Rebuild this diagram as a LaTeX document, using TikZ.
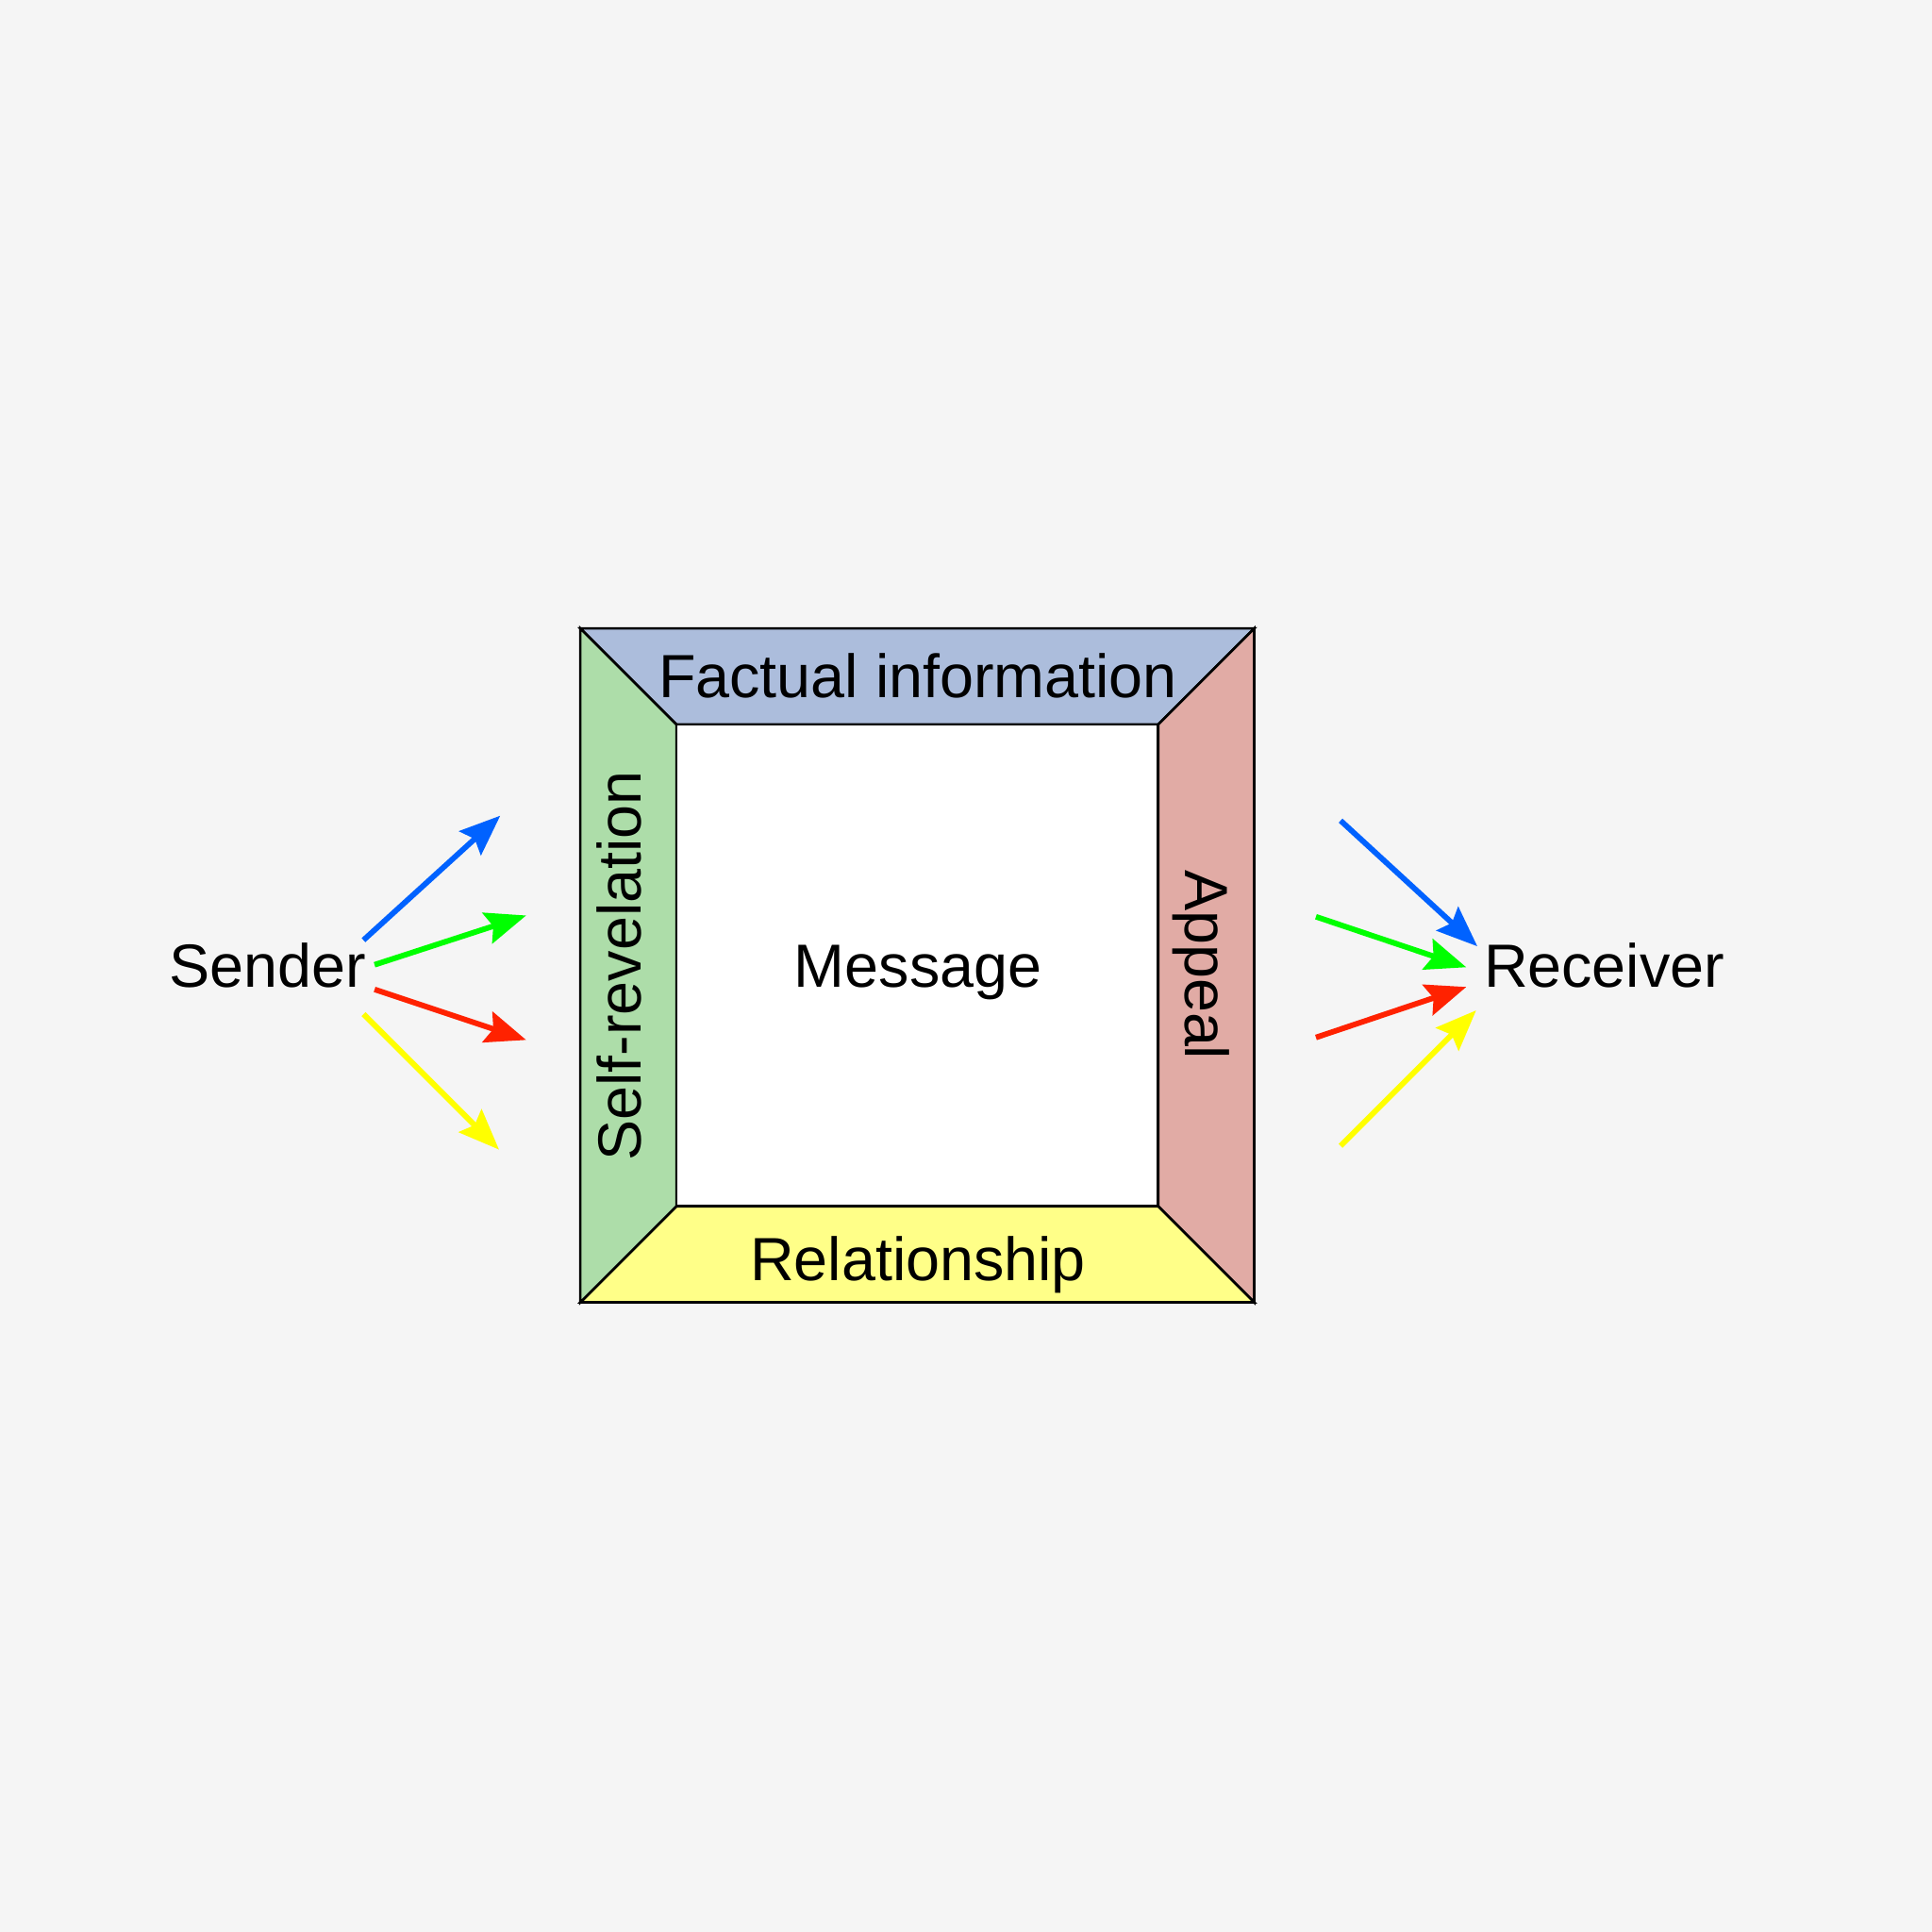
\documentclass[tikz,border=0pt]{standalone}
\usepackage{fontspec}
\setmainfont{Liberation Sans}
\usetikzlibrary{arrows.meta}
\definecolor{bg}{HTML}{F5F5F5}
\definecolor{topc}{HTML}{ACBDDC}
\definecolor{leftc}{HTML}{ADDDA9}
\definecolor{rightc}{HTML}{E1ABA5}
\definecolor{botc}{HTML}{FFFF88}
\definecolor{ablue}{HTML}{0062FF}
\definecolor{agreen}{HTML}{00FF00}
\definecolor{ared}{HTML}{FF2200}
\definecolor{ayellow}{HTML}{FFFF00}
\begin{document}
\begin{tikzpicture}[x=1pt,y=-1pt,
  lbl/.style={inner sep=0pt, anchor=base, font=\fontsize{49.5}{58}\selectfont},
  panel/.style={draw=black, line width=2pt, line join=miter},
  arr/.style={line width=4.5pt, -{Stealth[length=33pt,width=26pt,inset=5pt]}}]
\fill[bg] (0,0) rectangle (1568,1568);
\useasboundingbox (0,0) rectangle (1568,1568);
% corners
\coordinate (O1) at (471,510); \coordinate (O2) at (1018,510);
\coordinate (O3) at (1018,1057); \coordinate (O4) at (471,1057);
\coordinate (I1) at (549,588); \coordinate (I2) at (940,588);
\coordinate (I3) at (940,979); \coordinate (I4) at (549,979);
\filldraw[panel, fill=topc] (O1) -- (O2) -- (I2) -- (I1) -- cycle;
\filldraw[panel, fill=rightc] (O2) -- (O3) -- (I3) -- (I2) -- cycle;
\filldraw[panel, fill=botc] (O3) -- (O4) -- (I4) -- (I3) -- cycle;
\filldraw[panel, fill=leftc] (O4) -- (O1) -- (I1) -- (I4) -- cycle;
\filldraw[panel, fill=white] (I1) rectangle (I3);
\draw[panel, fill=none] (O1) rectangle (O3);
% labels
\node[lbl] (fact) at (745,566.5) {Factual information};
\node[lbl] (msg) at (745,801) {Message};
\node[lbl] (rel) at (745,1039) {Relationship};
\node[lbl, rotate=90] (self) at (520,784) {Self-revelation};
\node[lbl, rotate=-90] (app) at (962,783) {Appeal};
\node[lbl] (send) at (217,801) {Sender};
\node[lbl] (recv) at (1302,801) {Receiver};
% arrow endpoints
\coordinate (sb) at (295,763); \coordinate (sbt) at (406,662);
\coordinate (sg) at (304,783); \coordinate (sgt) at (427,743);
\coordinate (sr) at (304,803); \coordinate (srt) at (427,844);
\coordinate (sy) at (295,823); \coordinate (syt) at (405,933);
\coordinate (rb) at (1088,666); \coordinate (rbt) at (1199,768);
\coordinate (rg) at (1068,744); \coordinate (rgt) at (1190,785);
\coordinate (rr) at (1068,842); \coordinate (rrt) at (1190,801);
\coordinate (ry) at (1088,930); \coordinate (ryt) at (1198,820);
\draw[arr, ablue] (sb) -- (sbt);
\draw[arr, agreen] (sg) -- (sgt);
\draw[arr, ared] (sr) -- (srt);
\draw[arr, ayellow] (sy) -- (syt);
\draw[arr, ablue] (rb) -- (rbt);
\draw[arr, agreen] (rg) -- (rgt);
\draw[arr, ared] (rr) -- (rrt);
\draw[arr, ayellow] (ry) -- (ryt);
\end{tikzpicture}
\end{document}
